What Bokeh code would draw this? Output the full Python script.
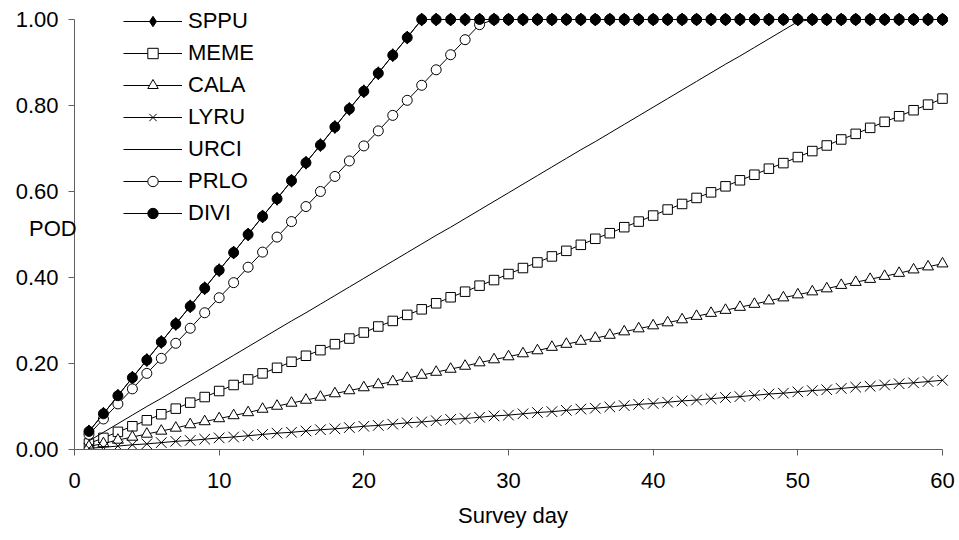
from bokeh.plotting import figure
from bokeh.models import Range1d, FixedTicker, NumeralTickFormatter, Legend, LegendItem
from bokeh.embed import file_html
from bokeh.resources import INLINE

days = list(range(1, 61))

SPPU = [0.042, 0.083, 0.125, 0.167, 0.208, 0.250, 0.292, 0.333, 0.375, 0.417,
        0.458, 0.500, 0.542, 0.583, 0.625, 0.667, 0.708, 0.750, 0.792, 0.833,
        0.875, 0.917, 0.958] + [1.0] * 37
DIVI = [0.042, 0.083, 0.125, 0.167, 0.208, 0.250, 0.292, 0.333, 0.375, 0.417,
        0.458, 0.500, 0.542, 0.583, 0.625, 0.667, 0.708, 0.750, 0.792, 0.833,
        0.875, 0.917, 0.958] + [1.0] * 37
PRLO = [0.035, 0.071, 0.106, 0.141, 0.177, 0.212, 0.247, 0.282, 0.318, 0.353,
        0.388, 0.424, 0.459, 0.494, 0.530, 0.565, 0.600, 0.635, 0.671, 0.706,
        0.741, 0.777, 0.812, 0.847, 0.883, 0.918, 0.953, 0.988] + [1.0] * 32
URCI = [0.020, 0.040, 0.060, 0.080, 0.100, 0.119, 0.139, 0.159, 0.179, 0.199,
        0.219, 0.239, 0.259, 0.279, 0.299, 0.318, 0.338, 0.358, 0.378, 0.398,
        0.418, 0.438, 0.458, 0.478, 0.498, 0.517, 0.537, 0.557, 0.577, 0.597,
        0.617, 0.637, 0.657, 0.677, 0.697, 0.716, 0.736, 0.756, 0.776, 0.796,
        0.816, 0.836, 0.856, 0.876, 0.896, 0.915, 0.935, 0.955, 0.975, 0.995] + [1.0] * 10
MEME = [0.014, 0.027, 0.041, 0.054, 0.068, 0.082, 0.095, 0.109, 0.122, 0.136,
        0.150, 0.163, 0.177, 0.190, 0.204, 0.218, 0.231, 0.245, 0.258, 0.272,
        0.286, 0.299, 0.313, 0.326, 0.340, 0.354, 0.367, 0.381, 0.394, 0.408,
        0.422, 0.435, 0.449, 0.462, 0.476, 0.490, 0.503, 0.517, 0.530, 0.544,
        0.558, 0.571, 0.585, 0.598, 0.612, 0.626, 0.639, 0.653, 0.666, 0.680,
        0.694, 0.707, 0.721, 0.734, 0.748, 0.762, 0.775, 0.789, 0.802, 0.816]
CALA = [0.007, 0.014, 0.022, 0.029, 0.036, 0.043, 0.050, 0.058, 0.065, 0.072,
        0.079, 0.086, 0.094, 0.101, 0.108, 0.115, 0.122, 0.130, 0.137, 0.144,
        0.151, 0.158, 0.166, 0.173, 0.180, 0.187, 0.194, 0.202, 0.209, 0.216,
        0.223, 0.230, 0.238, 0.245, 0.252, 0.259, 0.266, 0.274, 0.281, 0.288,
        0.295, 0.302, 0.310, 0.317, 0.324, 0.331, 0.338, 0.346, 0.353, 0.360,
        0.367, 0.374, 0.382, 0.389, 0.396, 0.403, 0.410, 0.418, 0.425, 0.432]
LYRU = [0.003, 0.005, 0.008, 0.011, 0.013, 0.016, 0.019, 0.021, 0.024, 0.027,
        0.029, 0.032, 0.035, 0.038, 0.040, 0.043, 0.046, 0.048, 0.051, 0.054,
        0.056, 0.059, 0.062, 0.064, 0.067, 0.070, 0.072, 0.075, 0.078, 0.080,
        0.083, 0.086, 0.088, 0.091, 0.094, 0.096, 0.099, 0.102, 0.105, 0.107,
        0.110, 0.113, 0.115, 0.118, 0.121, 0.123, 0.126, 0.129, 0.131, 0.134,
        0.137, 0.139, 0.142, 0.145, 0.147, 0.150, 0.153, 0.155, 0.158, 0.161]

x_ticks = [0, 10, 20, 30, 40, 50, 60]
y_ticks = [0.0, 0.2, 0.4, 0.6, 0.8, 1.0]

FONT = "Liberation Sans"
FS = "22px"
AXIS_COLOR = "#606060"

p = figure(width=959, height=540, output_backend="svg", toolbar_location=None,
           x_range=Range1d(0, 60.622), y_range=Range1d(0, 1.0302),
           min_border_left=74, min_border_right=8, min_border_top=6, min_border_bottom=91)
p.outline_line_color = None
p.grid.visible = False
p.background_fill_color = "white"

for ax, ticks, bnds in ((p.xaxis[0], x_ticks, (0, 60)), (p.yaxis[0], y_ticks, (0, 1))):
    ax.ticker = FixedTicker(ticks=ticks)
    ax.bounds = bnds
    ax.axis_line_color = AXIS_COLOR
    ax.major_tick_line_color = AXIS_COLOR
    ax.minor_tick_line_color = None
    ax.major_tick_out = 6
    ax.major_tick_in = 0
    ax.major_label_text_font = FONT
    ax.major_label_text_font_size = FS
    ax.major_label_text_color = "black"
    ax.axis_label_text_font = FONT
    ax.axis_label_text_font_size = FS
    ax.axis_label_text_font_style = "normal"
    ax.axis_label_text_color = "black"

p.yaxis[0].formatter = NumeralTickFormatter(format="0.00")
p.yaxis[0].major_label_standoff = 10
p.yaxis[0].axis_label = "POD"
p.yaxis[0].axis_label_orientation = "horizontal"
p.yaxis[0].axis_label_standoff = -64
p.xaxis[0].major_label_standoff = 17
p.xaxis[0].axis_label = "Survey day"
p.xaxis[0].axis_label_standoff = 12

series = [
    ("SPPU", SPPU, "diamond", "black", 13),
    ("MEME", MEME, "square", "white", 9.5),
    ("CALA", CALA, "triangle", "white", 11),
    ("LYRU", LYRU, "x", "white", 15),
    ("URCI", URCI, None, None, 0),
    ("PRLO", PRLO, "circle", "white", 10),
    ("DIVI", DIVI, "circle", "black", 10),
]

items = []
for name, vals, marker, fill, size in series:
    rs = [p.line(days, vals, line_color="black", line_width=1)]
    if marker is not None:
        rs.append(p.scatter(days, vals, marker=marker, size=size, fill_color=fill,
                            line_color="black", line_width=1))
    items.append(LegendItem(label=name, renderers=rs))

legend = Legend(items=items, location=(49, 223), orientation="vertical",
                border_line_color=None, background_fill_alpha=0,
                glyph_width=59, glyph_height=26, label_height=26, spacing=6,
                label_standoff=6, padding=0, margin=0,
                label_text_font=FONT, label_text_font_size=FS, label_text_color="black")
p.add_layout(legend, "center")

open("out.html", "w").write(file_html(p, INLINE))
